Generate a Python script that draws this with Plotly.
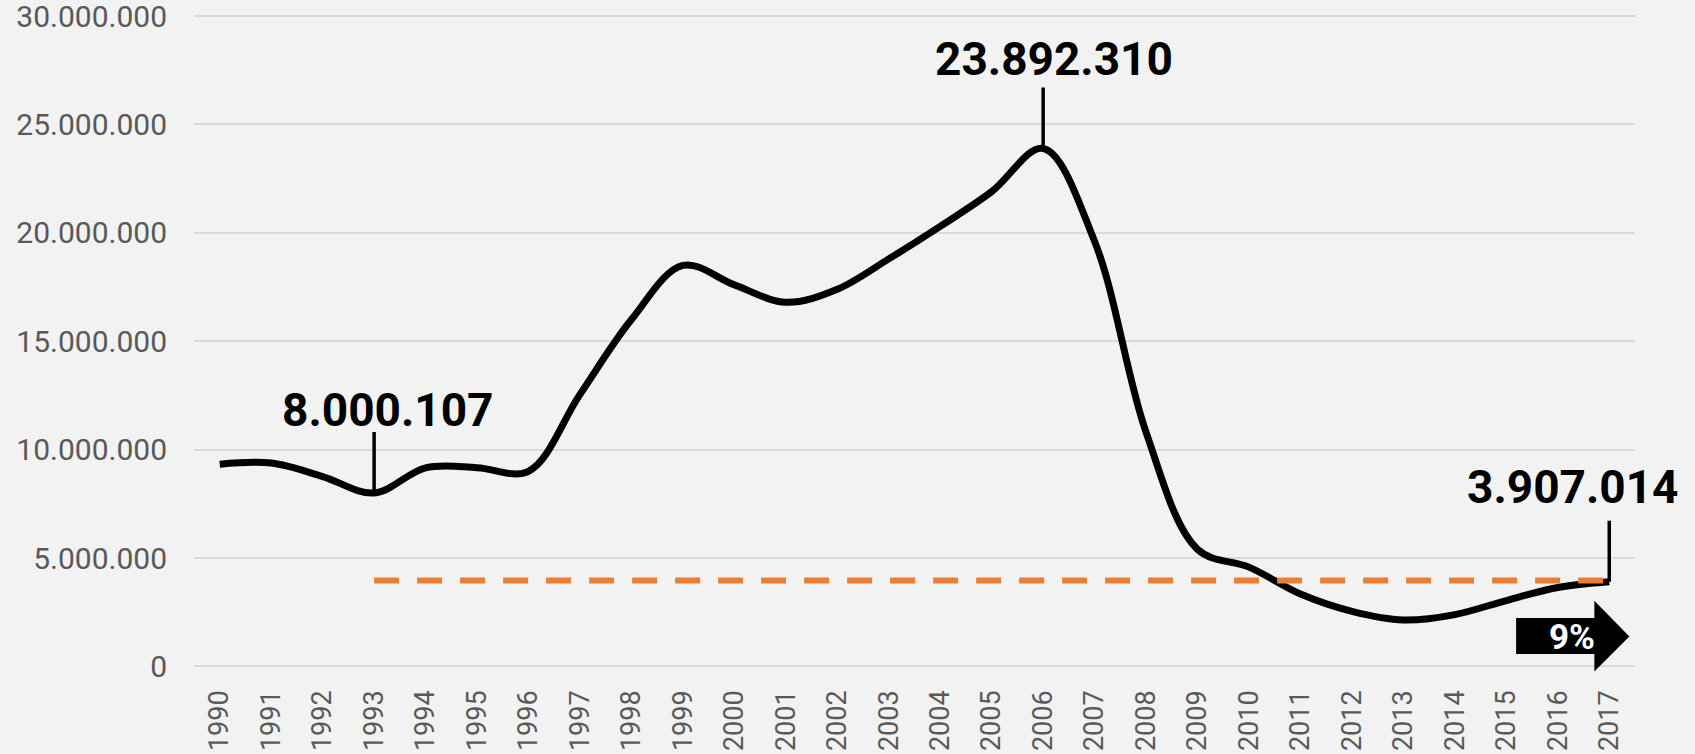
import plotly.graph_objects as go

# 年ごとのカテゴリ
YEARS = [
    "1990", "1991", "1992", "1993", "1994", "1995", "1996", "1997", "1998", "1999",
    "2000", "2001", "2002", "2003", "2004", "2005", "2006", "2007", "2008", "2009",
    "2010", "2011", "2012", "2013", "2014", "2015", "2016", "2017",
]
VALUES = [
    9330000, 9380000, 8760000, 8000107, 9160000, 9170000, 9000000, 12550000,
    16000000, 18500000, 17600000, 16800000, 17400000, 18800000, 20300000,
    21900000, 23892310, 19600000, 10800000, 5400000, 4580000, 3340000,
    2540000, 2140000, 2390000, 3040000, 3640000, 3907014,
]
REF_YEARS = ["1993", "2017"]
REF_VALUES = [3960000, 3960000]
CALLOUT_YEARS = ["1993", "2006", "2017"]
CALLOUT_TEXT = ["8.000.107", "23.892.310", "3.907.014"]
Y_TICKS = [0, 5000000, 10000000, 15000000, 20000000, 25000000, 30000000]
BADGE_TEXT = "9%"

BG = "#F2F2F2"
GRID = "#D9D9D9"
TICK_FONT = "#595959"
ORANGE = "#ED7D31"

fig = go.Figure()

fig.add_trace(
    go.Scatter(
        x=YEARS,
        y=VALUES,
        mode="lines",
        line={"color": "black", "width": 7, "shape": "spline"},
        showlegend=False,
        hoverinfo="skip",
    )
)
fig.add_trace(
    go.Scatter(
        x=REF_YEARS,
        y=REF_VALUES,
        mode="lines",
        line={"color": ORANGE, "width": 6, "dash": "25px,18px"},
        showlegend=False,
        hoverinfo="skip",
    )
)

# 吹き出しの縦線と数値ラベル (x方向のずれ, y方向のずれ)
offsets = {"1993": (13, 83), "2006": (11, 89), "2017": (-37, 95)}
for year, text in zip(CALLOUT_YEARS, CALLOUT_TEXT):
    idx = YEARS.index(year)
    val = VALUES[idx]
    dx, dy = offsets[year]
    fig.add_shape(
        type="line",
        xref="x", yref="y",
        ysizemode="pixel", yanchor=val,
        x0=idx, x1=idx, y0=0, y1=61,
        line={"color": "black", "width": 3.5},
        layer="above",
    )
    fig.add_annotation(
        x=idx, y=val, xref="x", yref="y",
        text=f"<b>{text}</b>",
        showarrow=False, xshift=dx, yshift=dy,
        font={"family": "Roboto", "size": 46, "color": "black"},
    )

# 右下の矢印バッジ
fig.add_shape(
    type="path",
    xref="x", yref="y",
    path="M 25.19,570000 L 26.71,570000 L 26.71,-230000 L 27.39,1380000 "
    "L 26.71,3030000 L 26.71,2230000 L 25.19,2230000 Z",
    fillcolor="black",
    line={"width": 0},
    layer="above",
)
fig.add_annotation(
    x=26.28, y=1320000, xref="x", yref="y",
    text=f"<b>{BADGE_TEXT}</b>",
    showarrow=False,
    font={"family": "Roboto", "size": 35, "color": "white"},
)

fig.update_layout(
    width=1695,
    height=754,
    margin={"l": 194, "r": 60, "t": 15, "b": 80},
    paper_bgcolor=BG,
    plot_bgcolor=BG,
    separators=",.",
    font={"family": "Roboto", "color": TICK_FONT},
    xaxis={
        "type": "category",
        "range": [-0.5, 27.5],
        "showgrid": False,
        "automargin": False,
        "tickangle": -90,
        "tickfont": {"size": 27, "color": TICK_FONT},
        "ticklabelstandoff": 10,
    },
    yaxis={
        "range": [-350000, 30050000],
        "tickvals": Y_TICKS,
        "tickformat": ",.0f",
        "showgrid": True,
        "gridcolor": GRID,
        "gridwidth": 2,
        "zeroline": True,
        "zerolinecolor": GRID,
        "zerolinewidth": 2,
        "automargin": False,
        "ticklabeloverflow": "allow",
        "tickfont": {"size": 30, "color": TICK_FONT},
        "ticklabelstandoff": 26,
    },
)

# ページ余白をなくして背景色をそろえる
fig.write_html(
    "out.html",
    config={"displayModeBar": False},
    post_script="document.body.style.margin='0';document.body.style.background='#F2F2F2';",
)
